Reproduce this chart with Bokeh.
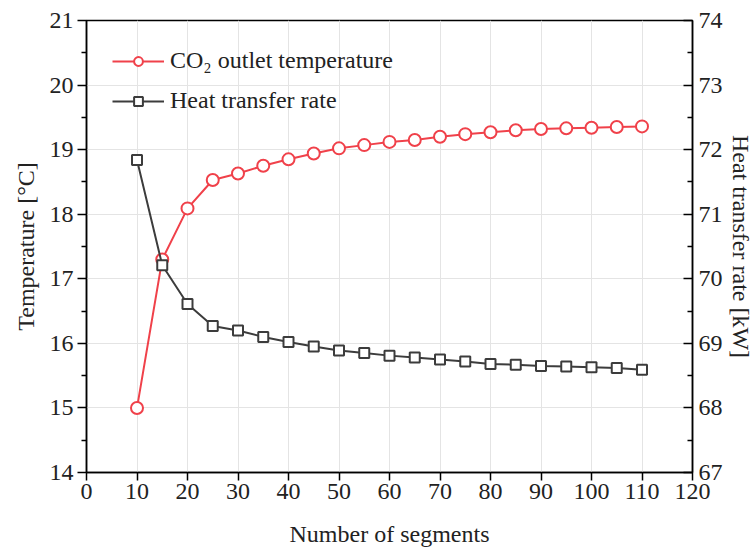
from bokeh.plotting import figure
from bokeh.models import Range1d, LinearAxis, Legend, LegendItem, FixedTicker
from bokeh.embed import file_html
from bokeh.resources import INLINE

segments = [10, 15, 20, 25, 30, 35, 40, 45, 50, 55, 60, 65, 70, 75, 80, 85, 90, 95, 100, 105, 110]
co2_outlet_temp = [15.00, 17.30, 18.09, 18.53, 18.63, 18.75, 18.85, 18.94, 19.02, 19.07, 19.12,
                   19.15, 19.20, 19.24, 19.27, 19.30, 19.32, 19.33, 19.34, 19.35, 19.36]
heat_transfer_rate = [71.84, 70.21, 69.61, 69.27, 69.20, 69.10, 69.02, 68.95, 68.89, 68.85, 68.81,
                      68.78, 68.75, 68.72, 68.68, 68.67, 68.65, 68.64, 68.63, 68.62, 68.59]
x_ticks = [0, 10, 20, 30, 40, 50, 60, 70, 80, 90, 100, 110, 120]
temp_ticks = [14, 15, 16, 17, 18, 19, 20, 21]
rate_ticks = [67, 68, 69, 70, 71, 72, 73, 74]

FONT = "'Liberation Serif', 'Times New Roman', serif"
FS = "24px"
RED = "#F0414A"
GRAY = "#3C3C3C"

p = figure(width=756, height=551, output_backend="svg", toolbar_location=None,
           x_range=Range1d(0, 120), y_range=Range1d(14, 21),
           min_border_left=86, min_border_right=62, min_border_top=20, min_border_bottom=79)
p.extra_y_ranges = {"rate": Range1d(67, 74)}

p.outline_line_color = "black"
p.outline_line_width = 1.5
p.background_fill_color = "white"
p.border_fill_color = "white"

# grids
for g in (p.xgrid, p.ygrid):
    g.grid_line_color = "#E4E4E4"
    g.grid_line_width = 1
p.xgrid.ticker = FixedTicker(ticks=x_ticks)
p.ygrid.ticker = FixedTicker(ticks=temp_ticks)

# bottom axis
xa = p.xaxis[0]
xa.ticker = FixedTicker(ticks=x_ticks)
xa.axis_label = "Number of segments"
xa.major_tick_out = 8
xa.major_tick_in = 0
xa.minor_tick_out = 0
xa.minor_tick_in = 0

# left axis
ya = p.yaxis[0]
ya.ticker = FixedTicker(ticks=temp_ticks, minor_ticks=[14.5 + i for i in range(7)])
ya.axis_label = "Temperature [°C]"
ya.major_tick_out = 9
ya.major_tick_in = 0
ya.minor_tick_out = 5
ya.minor_tick_in = 0

# right axis
ra = LinearAxis(y_range_name="rate",
                ticker=FixedTicker(ticks=rate_ticks, minor_ticks=[67.5 + i for i in range(7)]),
                axis_label="Heat transfer rate [kW]")
ra.major_tick_out = 0
ra.major_tick_in = 9
ra.minor_tick_out = 0
ra.minor_tick_in = 5
ra.axis_label_orientation = "vertical"
p.add_layout(ra, "right")

for ax in (xa, ya, ra):
    ax.axis_line_width = 1.5
    ax.axis_line_color = "black"
    ax.major_tick_line_width = 1.5
    ax.minor_tick_line_width = 1.5
    ax.major_tick_line_color = "black"
    ax.minor_tick_line_color = "black"
    ax.major_label_text_font = FONT
    ax.major_label_text_font_size = FS
    ax.major_label_text_color = "#222222"
    ax.axis_label_text_font = FONT
    ax.axis_label_text_font_size = FS
    ax.axis_label_text_font_style = "normal"
    ax.axis_label_text_color = "#222222"
xa.major_label_standoff = 3
xa.axis_label_standoff = 19
ya.major_label_standoff = 4
ya.axis_label_standoff = 8
ra.major_label_standoff = 6
ra.axis_label_standoff = 2

# series
r_line = p.line(segments, co2_outlet_temp, line_color=RED, line_width=2)
r_pts = p.scatter(segments, co2_outlet_temp, marker="circle", size=12,
                  line_color=RED, line_width=2, fill_color="white")
h_line = p.line(segments, heat_transfer_rate, y_range_name="rate", line_color=GRAY, line_width=2)
h_pts = p.scatter(segments, heat_transfer_rate, y_range_name="rate", marker="square", size=10,
                  line_color=GRAY, line_width=2, fill_color="white")

legend = Legend(items=[
    LegendItem(label="CO\u2082 outlet temperature", renderers=[r_line, r_pts]),
    LegendItem(label="Heat transfer rate", renderers=[h_line, h_pts]),
], location=(22, 354))
legend.label_text_font = FONT
legend.label_text_font_size = FS
legend.label_text_color = "#222222"
legend.background_fill_alpha = 0
legend.border_line_alpha = 0
legend.glyph_width = 52
legend.glyph_height = 22
legend.label_standoff = 6
legend.label_height = 24
legend.spacing = 13
legend.padding = 4
p.add_layout(legend, "center")

open("out.html", "w").write(file_html(p, INLINE))
